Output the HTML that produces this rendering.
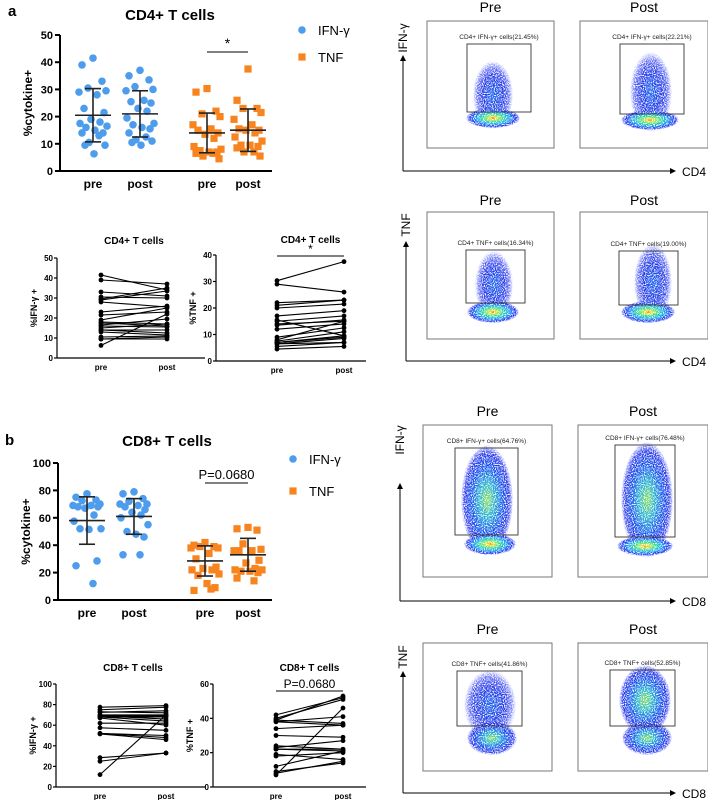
<!DOCTYPE html>
<html><head><meta charset="utf-8"><style>
html,body{margin:0;padding:0;background:#fff;}
svg{display:block;font-family:"Liberation Sans",Arial,sans-serif;}
</style></head><body>
<svg id="fig" width="708" height="800" viewBox="0 0 708 800" xmlns="http://www.w3.org/2000/svg">
<defs>
<radialGradient id="hot"><stop offset="0" stop-color="#ff5000"/><stop offset="0.12" stop-color="#f0e020"/><stop offset="0.35" stop-color="#30e080"/><stop offset="0.6" stop-color="#10a0f0"/><stop offset="0.85" stop-color="#1a30f0"/><stop offset="1" stop-color="#3040ff" stop-opacity="0"/></radialGradient>
<radialGradient id="warm"><stop offset="0" stop-color="#80e050"/><stop offset="0.3" stop-color="#20b0d0"/><stop offset="0.6" stop-color="#1050f0"/><stop offset="0.85" stop-color="#1a28e8" stop-opacity="0.8"/><stop offset="1" stop-color="#3040ff" stop-opacity="0"/></radialGradient>
<radialGradient id="cool"><stop offset="0" stop-color="#1460f0"/><stop offset="0.5" stop-color="#1a30e8" stop-opacity="0.9"/><stop offset="0.8" stop-color="#2a38f0" stop-opacity="0.55"/><stop offset="1" stop-color="#5060ff" stop-opacity="0"/></radialGradient>
<filter id="speck" x="-10%" y="-10%" width="120%" height="120%">
<feTurbulence type="fractalNoise" baseFrequency="0.9" numOctaves="1" seed="3" result="n"/>
<feColorMatrix in="n" type="matrix" values="0 0 0 0 0  0 0 0 0 0  0 0 0 0 0  0 0 0 3.2 -1.1" result="na"/>
<feComposite in="SourceGraphic" in2="na" operator="in" result="s"/>
<feMerge><feMergeNode in="s"/><feMergeNode in="s"/></feMerge>
</filter>
<marker id="arr" markerWidth="6" markerHeight="6" refX="5" refY="3" orient="auto"><path d="M0,0 L6,3 L0,6 z" fill="#000"/></marker>
</defs>
<g id="charts"></g>
<g id="flow"></g>
</svg>
<script>
// ---------- Data ----------
const groups = ["pre","post","pre","post"];
const cd4IfnPre  = [41.5,39,33,30.5,29.5,29,28,23,21.5,19,18,17.5,16.5,16,15,14,14,13,10.5,9.5,9.5,6.3];
const cd4IfnPost = [37,35,33.5,31,30,29.5,26,25.5,25,23,22,19.5,17.5,17,16,15.5,14,12.5,11.5,11,10.5,9.5];
const cd4TnfPre  = [30.3,29,22,21,20,17,15.5,15,14,13.5,12,9,8,7.5,7,7,6.5,6.5,5.5,4.5];
const cd4TnfPost = [37.5,26,23,23,21.5,19,17,15.5,15,15,14,12.5,11,9.5,9.5,9,8.5,7,7,5.5];
const cd4Means = [20.5,21,14,15];
const cd4SDs   = [9.8,8.5,7.3,7.8];
const cd8IfnPre  = [77.5,75,73,72.5,70,69,69,68,68,67,62,57.5,52,52,51.5,28.5,25,12];
const cd8IfnPost = [79,77.5,74,72,70,70,69,68,66,64,62,60,55,50,48,46,33,33];
const cd8TnfPre  = [42,40,39,39,38,38,34,30,24,23,22,22,19,18,12,9,7,8];
const cd8TnfPost = [53,52,51,41,37,36,36,36,29,27,23,22,22,21,21,20,16,14];
const cd8TnfPostPaired = [52,51,53,37,36,41,36,29,22,27,21,22,16,20,21,14,46,15];
const cd8IfnPostPaired = [79,77.5,72,74,70,66,69,68,64,60,62,55,50,48,46,33,33,70];
const cd8Means = [58,61,28.5,33];
const cd8SDs   = [17.3,13,11,12];
const cd4IfnPostPaired = [34,37,31,30,35,33.5,25.5,26,23,25,17,16,19.5,15.5,17,14,12.5,11.5,11,10.5,9.5,22];
const cd4TnfPostPaired = [37.5,26,23,23,21.5,19,9.5,17,15,15.5,14,12.5,15,11,9.5,9,8.5,7,7,5.5];
const yTicksA = [0,10,20,30,40,50];
const yTicksB = [0,20,40,60,80,100];
const yTicksTnfA = [0,10,20,30,40];
const yTicksTnfB = [0,20,40,60];

const NS="http://www.w3.org/2000/svg";
const root=document.getElementById('charts');
function el(tag,attrs,parent,txt){const e=document.createElementNS(NS,tag);for(const k in attrs)e.setAttribute(k,attrs[k]);if(txt!==undefined)e.textContent=txt;(parent||root).appendChild(e);return e;}
function jit(i){const p=[0,-11,9,-5,13,-14,4,-9,11,-2,7,-13,14,-7,2,10,-11,6,-4,12,-8,1];return p[i%p.length];}

function scatterPanel(o){
  const g=el('g',{});
  
  
  const y=v=>o.y0-(v/o.ymax)*(o.y0-o.y1);
  el('line',{x1:o.ax,y1:o.y1,x2:o.ax,y2:o.y0,stroke:'#000','stroke-width':2},g);
  el('line',{x1:o.ax,y1:o.y0,x2:o.xr,y2:o.y0,stroke:'#000','stroke-width':2},g);
  o.ticks.forEach(t=>{
    el('line',{x1:o.ax-5,y1:y(t),x2:o.ax,y2:y(t),stroke:'#000','stroke-width':2},g);
    const tx=el('text',{x:o.ax-7,y:y(t)+4,'text-anchor':'end','font-size':11,'font-weight':'bold'},g,t);
    
    
  });
  groups.forEach((c,i)=>{
    const xl=el('text',{x:o.xs[i],y:o.y0+17,'text-anchor':'middle','font-size':12,'font-weight':'bold'},g,c);
    
    
  });
  const yl=el('text',{transform:`translate(${o.ax-28},${(o.y0+o.y1)/2}) rotate(-90)`,'text-anchor':'middle','font-size':12,'font-weight':'bold'},g,'%cytokine+');
  
  
  const t=el('text',{x:o.tx,y:o.ty,'text-anchor':'middle','font-size':15,'font-weight':'bold'},g,o.title);
  
  
  o.series.forEach((s,i)=>{
    const col=i<2?'#4e9ded':'#f7841e';
    s.forEach((v,j)=>{
      const cx=o.xs[i]+jit(j);
      let m;
      if(i<2) m=el('circle',{cx:cx,cy:y(v),r:3.8,fill:col},g);
      else m=el('rect',{x:cx-3.6,y:y(v)-3.6,width:7.2,height:7.2,fill:col},g);
      
      
    });
    const mx=o.xs[i],mm=o.means[i],sd=o.sds[i];
    el('line',{x1:mx-18,y1:y(mm),x2:mx+18,y2:y(mm),stroke:'#222','stroke-width':1.6},g);
    el('line',{x1:mx,y1:y(mm+sd),x2:mx,y2:y(mm-sd),stroke:'#222','stroke-width':1.6},g);
    el('line',{x1:mx-8,y1:y(mm+sd),x2:mx+8,y2:y(mm+sd),stroke:'#222','stroke-width':1.6},g);
    el('line',{x1:mx-8,y1:y(mm-sd),x2:mx+8,y2:y(mm-sd),stroke:'#222','stroke-width':1.6},g);
  });
  el('line',{x1:o.xs[2],y1:o.sigY,x2:o.xs[3],y2:o.sigY,stroke:'#000','stroke-width':1},g);
  const st=el('text',{x:(o.xs[2]+o.xs[3])/2,y:o.sigY-4,'text-anchor':'middle','font-size':o.sigSize},g,o.sig);
  
  
  const lc=el('circle',{cx:o.lx,cy:o.ly1,r:3.8,fill:'#4e9ded'},g);
  
  el('text',{x:o.lx+16,y:o.ly1+5,'font-size':13},g,'IFN-γ');
  const lr=el('rect',{x:o.lx-3.6,y:o.ly2-3.6,width:7.2,height:7.2,fill:'#f7841e'},g);
  
  el('text',{x:o.lx+16,y:o.ly2+5,'font-size':13},g,'TNF');
}

function pairedPanel(o){
  const g=el('g',{});
  
  
  const y=v=>o.y0-(v/o.ymax)*(o.y0-o.y1);
  el('line',{x1:o.ax,y1:o.y1,x2:o.ax,y2:o.y0,stroke:'#000','stroke-width':1.2},g);
  el('line',{x1:o.ax,y1:o.y0,x2:o.xr,y2:o.y0,stroke:'#000','stroke-width':1.2},g);
  o.ticks.forEach(t=>{
    el('line',{x1:o.ax-3,y1:y(t),x2:o.ax,y2:y(t),stroke:'#000','stroke-width':1.2},g);
    const tx=el('text',{x:o.ax-4,y:y(t)+3,'text-anchor':'end','font-size':8,'font-weight':'bold'},g,t);
    
    
  });
  ['pre','post'].forEach((c,i)=>{
    const xl=el('text',{x:i?o.xb:o.xa,y:o.y0+12,'text-anchor':'middle','font-size':8,'font-weight':'bold'},g,c);
    
    
  });
  const yl=el('text',{transform:`translate(${o.ax-20},${(o.y0+o.y1)/2}) rotate(-90)`,'text-anchor':'middle','font-size':9,'font-weight':'bold'},g,o.ylabel);
  
  
  const t=el('text',{x:(o.xa+o.xb)/2,y:o.ty,'text-anchor':'middle','font-size':10,'font-weight':'bold'},g,o.title);
  
  
  o.pre.forEach((v,j)=>{
    const w=o.post[j];
    const ln=el('line',{x1:o.xa,y1:y(v),x2:o.xb,y2:y(w),stroke:'#000','stroke-width':1.1},g);
    
    
    el('circle',{cx:o.xa,cy:y(v),r:2.4,fill:'#000'},g);
    el('circle',{cx:o.xb,cy:y(w),r:2.4,fill:'#000'},g);
  });
  if(o.sig){
    el('line',{x1:o.xa,y1:o.sigY,x2:o.xb,y2:o.sigY,stroke:'#000','stroke-width':1},g);
    const st=el('text',{x:(o.xa+o.xb)/2,y:o.sigY-3,'text-anchor':'middle','font-size':o.sigSize},g,o.sig);
    
    
  }
}

scatterPanel({name:'cd4-scatter',ax:60,xr:272,y0:171,y1:35,ymax:50,ticks:yTicksA,xs:[93,140,207,248],
  series:[cd4IfnPre,cd4IfnPost,cd4TnfPre,cd4TnfPost],means:cd4Means,sds:cd4SDs,title:'CD4+ T cells',tx:170,ty:20,
  sig:'*',sigY:52,sigSize:14,lx:302,ly1:30,ly2:57});
scatterPanel({name:'cd8-scatter',ax:58,xr:272,y0:600,y1:463,ymax:100,ticks:yTicksB,xs:[87,134,205,248],
  series:[cd8IfnPre,cd8IfnPost,cd8TnfPre,cd8TnfPost],means:cd8Means,sds:cd8SDs,title:'CD8+ T cells',tx:167,ty:446,
  sig:'P=0.0680',sigY:483,sigSize:13,lx:293,ly1:459,ly2:491});
pairedPanel({name:'cd4-ifn-paired',ax:57,xr:205,y0:358,y1:258,ymax:50,ticks:yTicksA,xa:101,xb:167,
  pre:cd4IfnPre,post:cd4IfnPostPaired,ylabel:'%IFN-γ +',title:'CD4+ T cells',ty:244});
pairedPanel({name:'cd4-tnf-paired',ax:216,xr:366,y0:361,y1:255,ymax:40,ticks:yTicksTnfA,xa:277,xb:344,
  pre:cd4TnfPre,post:cd4TnfPostPaired,ylabel:'%TNF +',title:'CD4+ T cells',ty:243,sig:'*',sigY:256,sigSize:12});
pairedPanel({name:'cd8-ifn-paired',ax:56,xr:205,y0:787,y1:684,ymax:100,ticks:yTicksB,xa:100,xb:166,
  pre:cd8IfnPre,post:cd8IfnPostPaired,ylabel:'%IFN-γ +',title:'CD8+ T cells',ty:671});
pairedPanel({name:'cd8-tnf-paired',ax:213,xr:366,y0:787,y1:684,ymax:60,ticks:yTicksTnfB,xa:276,xb:343,
  pre:cd8TnfPre,post:cd8TnfPostPaired,ylabel:'%TNF +',title:'CD8+ T cells',ty:671,sig:'P=0.0680',sigY:691,sigSize:12});

const lA=el('text',{x:8,y:16,'font-size':15,'font-weight':'bold'},root,'a');

const lB=el('text',{x:5,y:445,'font-size':15,'font-weight':'bold'},root,'b');


// ---------- Flow plots ----------
const flow=document.getElementById('flow');
function flowRow(r){
  const g=el('g',{},flow);
  
  
  el('line',{x1:r.axx,y1:r.axy,x2:r.axx,y2:r.axTop,stroke:'#000','stroke-width':1,'marker-end':'url(#arr)'},g);
  el('line',{x1:r.axx,y1:r.axy,x2:675,y2:r.axy,stroke:'#000','stroke-width':1,'marker-end':'url(#arr)'},g);
  el('text',{x:682,y:r.axy+5,'font-size':12},g,r.xl);
  el('text',{transform:`translate(${r.axx+4},${r.ylY}) rotate(-90)`,'text-anchor':'middle','font-size':12},g,r.yl);
  r.panels.forEach(p=>{
    el('text',{x:(p.x0+p.x1)/2,y:r.tY,'text-anchor':'middle','font-size':14},g,p.t);
    el('rect',{x:p.x0,y:r.by0,width:p.x1-p.x0,height:r.by1-r.by0,fill:'none',stroke:'#777','stroke-width':1},g);
    const bg=el('g',{filter:'url(#speck)'},g);
    
    
    p.blobs.forEach(b=>el('ellipse',{cx:b[0],cy:b[1],rx:b[2],ry:b[3],fill:`url(#${b[4]})`},bg));
    el('rect',{x:p.g[0],y:p.g[1],width:p.g[2]-p.g[0],height:p.g[3]-p.g[1],fill:'none',stroke:'#333','stroke-width':0.9},g);
    el('text',{x:(p.g[0]+p.g[2])/2,y:p.g[1]-5,'text-anchor':'middle','font-size':6.5,fill:'#222'},g,p.lab);
  });
}
flowRow({name:'cd4-ifn-flow',axx:403,axy:171,axTop:56,ylY:38,xl:'CD4',yl:'IFN-γ',tY:12,by0:21,by1:148,panels:[
 {t:'Pre',x0:427,x1:554,g:[467,44,531,112],lab:'CD4+ IFN-γ+ cells(21.45%)',blobs:[[493,95,20,34,'cool'],[493,118,27,10,'hot']]},
 {t:'Post',x0:580,x1:708,g:[620,44,684,114],lab:'CD4+ IFN-γ+ cells(22.21%)',blobs:[[651,92,21,40,'cool'],[650,120,29,10,'hot']]}]});
flowRow({name:'cd4-tnf-flow',axx:406,axy:361,axTop:242,ylY:225,xl:'CD4',yl:'TNF',tY:205,by0:212,by1:339,panels:[
 {t:'Pre',x0:427,x1:554,g:[466,250,525,303],lab:'CD4+ TNF+ cells(16.34%)',blobs:[[494,285,19,34,'cool'],[493,312,26,11,'hot']]},
 {t:'Post',x0:580,x1:708,g:[619,251,678,305],lab:'CD4+ TNF+ cells(19.00%)',blobs:[[653,282,19,38,'cool'],[648,312,27,11,'hot']]}]});
flowRow({name:'cd8-ifn-flow',axx:400,axy:601,axTop:484,ylY:440,xl:'CD8',yl:'IFN-γ',tY:416,by0:425,by1:577,panels:[
 {t:'Pre',x0:423,x1:552,g:[455,448,518,535],lab:'CD8+ IFN-γ+ cells(64.76%)',blobs:[[487,500,26,55,'warm'],[490,544,26,11,'hot']]},
 {t:'Post',x0:578,x1:708,g:[615,445,675,537],lab:'CD8+ IFN-γ+ cells(76.48%)',blobs:[[647,500,26,58,'warm'],[645,546,28,10,'hot']]}]});
flowRow({name:'cd8-tnf-flow',axx:403,axy:793,axTop:672,ylY:657,xl:'CD8',yl:'TNF',tY:634,by0:643,by1:771,panels:[
 {t:'Pre',x0:423,x1:552,g:[457,671,522,726],lab:'CD8+ TNF+ cells(41.86%)',blobs:[[490,705,26,35,'cool'],[492,738,25,17,'warm']]},
 {t:'Post',x0:578,x1:708,g:[610,670,675,726],lab:'CD8+ TNF+ cells(52.85%)',blobs:[[645,700,26,35,'warm'],[647,738,25,17,'warm']]}]});
</script>
</body></html>
